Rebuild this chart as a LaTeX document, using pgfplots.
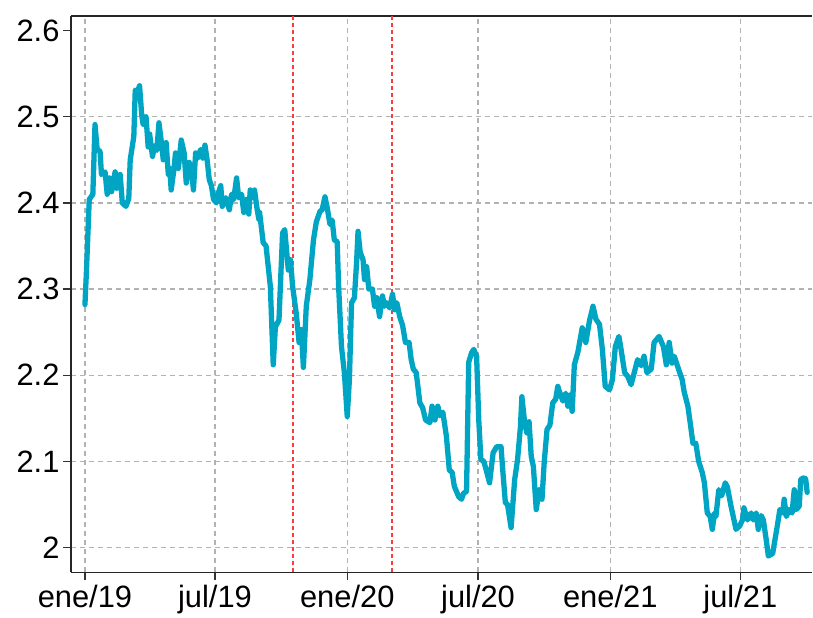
\documentclass[border=0pt]{standalone}
\usepackage{fontspec}
\setmainfont{Liberation Sans}
\usepackage{pgfplots}
\pgfplotsset{compat=1.18}
\definecolor{linec}{RGB}{0,165,196}
\definecolor{gridc}{RGB}{178,178,178}
\definecolor{vlinec}{RGB}{255,60,60}
\begin{document}
\begin{tikzpicture}
\begin{axis}[name=ax, scale only axis, width=742bp, height=557bp,
  xmin=-19.5, xmax=1012, ymin=1.971, ymax=2.617,
  axis x line*=box, axis y line*=left,
  axis line style={black!85, line width=1.6bp},
  xtick pos=bottom, ytick pos=left,
  tick align=outside, major tick length=8bp,
  tick style={black!80, line width=1.2bp},
  xtick={0,181,365,547,731,912},
  xticklabels={ene/19,jul/19,ene/20,jul/20,ene/21,jul/21},
  ytick={2,2.1,2.2,2.3,2.4,2.5},
  yticklabels={2,2.1,2.2,2.3,2.4,2.5},
  extra y ticks={2.6}, extra y tick labels={2.6},
  extra y tick style={grid=none},
  grid=major,
  major grid style={draw=gridc, line width=1.2bp, dash pattern=on 5bp off 4bp},
  /pgf/number format/assume math mode=true,
  tick label style={font=\fontsize{31}{36}\selectfont},
  xticklabel style={yshift=-1bp},
]
\addplot[draw=vlinec, line width=1.6bp, dash pattern=on 4bp off 3bp, forget plot] coordinates {(289.6,1.971) (289.6,2.617)};
\addplot[draw=vlinec, line width=1.6bp, dash pattern=on 4bp off 3bp, forget plot] coordinates {(427,1.971) (427,2.617)};
\addplot[draw=linec, line width=5.3bp, line join=round, line cap=round] coordinates {
(0,2.282) (2,2.319) (6,2.404) (11,2.41) (14,2.491) (17,2.462) (21,2.46) (23,2.433)
(28,2.436) (31,2.41) (34,2.429) (37,2.413) (42,2.436) (44,2.417) (49,2.433) (52,2.40)
(57,2.396) (61,2.405) (63,2.45) (68,2.477) (70,2.531) (73,2.529) (76,2.536) (79,2.502)
(81,2.491) (85,2.50) (88,2.465) (90,2.48) (94,2.454) (97,2.466) (100,2.461) (103,2.493)
(107,2.466) (109,2.45) (113,2.47) (116,2.433) (118,2.44) (120,2.415) (124,2.44) (126,2.458)
(130,2.44) (134,2.473) (138,2.458) (141,2.423) (145,2.447) (148,2.44) (151,2.415) (154,2.458)
(157,2.452) (161,2.462) (164,2.452) (167,2.467) (170,2.45) (173,2.427) (176,2.42) (179,2.404)
(183,2.40) (185,2.41) (189,2.42) (191,2.396) (196,2.406) (201,2.392) (204,2.41) (207,2.404)
(211,2.429) (214,2.406) (218,2.41) (221,2.389) (225,2.404) (228,2.387) (230,2.415) (234,2.406)
(236,2.415) (239,2.396) (242,2.381) (243,2.389) (248,2.354) (252,2.35) (258,2.303) (262,2.212)
(265,2.256) (270,2.264) (275,2.365) (278,2.369) (283,2.322) (286,2.334) (289,2.303) (294,2.272)
(298,2.238) (301,2.253) (304,2.209) (308,2.28) (313,2.311) (318,2.357) (322,2.378) (327,2.39)
(330,2.392) (334,2.407) (337,2.395) (341,2.375) (344,2.38) (347,2.357) (351,2.355) (353,2.303)
(357,2.233) (361,2.203) (365,2.152) (368,2.195) (371,2.284) (375,2.29) (378,2.331) (380,2.367)
(383,2.343) (387,2.334) (389,2.311) (392,2.326) (395,2.30) (400,2.30) (403,2.28) (406,2.29)
(410,2.268) (414,2.292) (417,2.28) (420,2.284) (424,2.278) (428,2.294) (431,2.276) (434,2.284)
(438,2.268) (442,2.258) (446,2.238) (451,2.238) (454,2.218) (457,2.207) (461,2.203) (466,2.168)
(470,2.162) (474,2.148) (480,2.145) (483,2.164) (487,2.148) (491,2.164) (494,2.153) (498,2.157)
(503,2.129) (507,2.09) (511,2.087) (514,2.071) (520,2.059) (524,2.056) (527,2.063) (531,2.065)
(534,2.215) (538,2.226) (541,2.23) (545,2.222) (548,2.148) (551,2.102) (555,2.10) (559,2.088)
(563,2.075) (568,2.11) (573,2.117) (579,2.117) (581,2.094) (585,2.052) (588,2.05) (593,2.023)
(598,2.079) (602,2.102) (606,2.14) (608,2.175) (612,2.144) (615,2.133) (618,2.146) (621,2.106)
(624,2.094) (628,2.044) (632,2.067) (636,2.056) (639,2.098) (643,2.137) (647,2.142) (651,2.168)
(655,2.172) (658,2.187) (661,2.179) (665,2.17) (669,2.179) (672,2.164) (675,2.177) (678,2.158)
(681,2.212) (686,2.227) (692,2.255) (697,2.238) (702,2.263) (707,2.28) (711,2.265) (716,2.259)
(720,2.23) (724,2.187) (730,2.183) (734,2.195) (738,2.233) (743,2.245) (746,2.23) (751,2.203)
(755,2.199) (760,2.189) (765,2.205) (769,2.218) (774,2.211) (778,2.222) (782,2.203) (788,2.207)
(792,2.238) (799,2.245) (805,2.233) (809,2.212) (813,2.238) (817,2.214) (820,2.222) (826,2.207)
(831,2.195) (834,2.18) (839,2.164) (843,2.14) (846,2.121) (850,2.121) (854,2.10) (859,2.087)
(862,2.075) (866,2.04) (870,2.036) (873,2.021) (876,2.04) (878,2.036) (882,2.067) (886,2.06)
(891,2.075) (894,2.07) (899,2.048) (906,2.021) (911,2.025) (915,2.032) (917,2.046) (922,2.032)
(927,2.04) (930,2.032) (934,2.04) (937,2.021) (941,2.037) (944,2.032) (948,2.009) (951,1.99)
(957,1.993) (961,2.013) (964,2.028) (967,2.044) (971,2.04) (973,2.056) (976,2.036) (980,2.044)
(984,2.04) (987,2.067) (990,2.044) (994,2.048) (996,2.079) (1001,2.081) (1003,2.079) (1005,2.064)
};
\end{axis}
\path (ax.south west) ++(-71bp,-41bp) rectangle ++(813bp,614bp);
\end{tikzpicture}
\end{document}
